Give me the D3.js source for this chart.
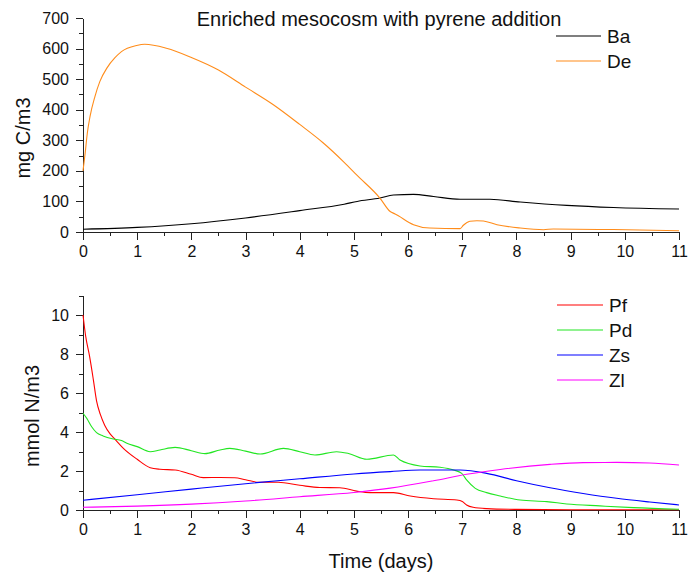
<!DOCTYPE html>
<html>
<head>
<meta charset="utf-8">
<script src="https://cdn.jsdelivr.net/npm/d3@7"></script>
<style>
  html, body { margin: 0; padding: 0; background: #fff; }
  svg { display: block; font-family: "Liberation Sans", Arial, Helvetica, sans-serif; }
  .axis path, .axis line { stroke: #222; stroke-width: 1; shape-rendering: crispEdges; }
  .axis text { fill: #111; font-size: 16px; }
</style>
</head>
<body>
<svg id="chart" width="688" height="577"></svg>
<script>
// ---------------- data ----------------
const titleText = "Enriched mesocosm with pyrene addition";
const xTicks = [0,1,2,3,4,5,6,7,8,9,10,11];
const topYTicks = [0,100,200,300,400,500,600,700];
const bottomYTicks = [0,2,4,6,8,10];

const baTime = [0,1,2,3,4,4.82,5.06,5.48,5.73,6.1,6.47,6.96,7.51,8.07,8.93,9.79,11];
const baVals = [9,15,27,46,70,91,100,111,121,123,116,107,107,98,87,80,75];

const deTime = [0,0.04,0.08,0.13,0.22,0.31,0.44,0.59,0.71,0.99,1.14,1.54,2.0,2.5,3.0,3.5,4.0,4.43,4.82,5.06,5.48,5.67,5.76,5.82,6.1,6.4,6.96,7.02,7.14,7.27,7.39,7.64,8.07,8.5,8.68,9.79,11];
const deVals = [200,258,324,378,443,492,536,570,590,610,614,601,571,530,474,418,352,292,228,185,111,67,59,53,24,13,11,22,35,37,36,24,13,7.5,10,8,4];

const pfTime = [0,0.05,0.12,0.19,0.25,0.32,0.4,0.5,0.6,0.75,1.0,1.24,1.42,1.7,2.0,2.22,2.53,2.8,3.0,3.25,3.6,4.0,4.37,4.74,5.05,5.3,5.73,6.04,6.47,6.9,7.0,7.08,7.2,7.45,8.0,9.0,11];
const pfVals = [10,8.9,7.9,6.7,5.6,4.9,4.35,3.9,3.6,3.15,2.6,2.17,2.09,2.05,1.83,1.66,1.67,1.65,1.55,1.42,1.42,1.27,1.15,1.14,0.97,0.89,0.89,0.72,0.58,0.51,0.44,0.26,0.14,0.07,0.03,0.01,0.01];

const pdTime = [0,0.07,0.16,0.25,0.37,0.56,0.71,0.81,1.0,1.24,1.42,1.7,2.0,2.25,2.53,2.71,3.0,3.27,3.7,4.0,4.28,4.68,4.9,5.24,5.73,5.85,6.22,6.59,6.84,6.99,7.08,7.24,7.45,7.7,8.07,8.56,8.93,9.54,10.16,11];
const pdVals = [4.96,4.7,4.27,3.97,3.8,3.64,3.56,3.42,3.25,2.99,3.08,3.21,3.04,2.89,3.08,3.16,3.02,2.87,3.16,2.99,2.82,2.99,2.9,2.6,2.82,2.56,2.26,2.19,2.05,1.88,1.54,1.11,0.89,0.72,0.51,0.43,0.31,0.21,0.12,0.04];

const zsTime = [0,1,2,3,4,5,5.67,6.22,6.96,7.45,8.0,8.62,9.23,9.85,10.46,11];
const zsVals = [0.5,0.78,1.07,1.35,1.6,1.85,1.97,2.05,2.05,1.88,1.5,1.14,0.85,0.6,0.41,0.26];

const zlTime = [0,1,2,3,4,5,5.67,6.47,7.08,7.7,8.62,9.23,9.85,10.46,11];
const zlVals = [0.14,0.2,0.3,0.46,0.68,0.9,1.12,1.5,1.83,2.08,2.34,2.43,2.44,2.41,2.31];

const topSeries = [
  {name: "Ba", time: baTime, vals: baVals, color: "#000000"},
  {name: "De", time: deTime, vals: deVals, color: "#ff8c1a"}
];
const bottomSeries = [
  {name: "Pf", time: pfTime, vals: pfVals, color: "#ff0000"},
  {name: "Pd", time: pdTime, vals: pdVals, color: "#22e622"},
  {name: "Zs", time: zsTime, vals: zsVals, color: "#0000ff"},
  {name: "Zl", time: zlTime, vals: zlVals, color: "#ff00ff"}
];

// ---------------- layout ----------------
const svg = d3.select("#chart");
const x = d3.scaleLinear().domain([0, 11]).range([83, 679]);
const yTop = d3.scaleLinear().domain([0, 700]).range([232, 18]);
const yBot = d3.scaleLinear().domain([0, 11]).range([510, 295.5]);

function drawPanel(y, yTicks, yMinor, xMinor, series) {
  // minor ticks
  svg.append("g").attr("class", "axis")
    .attr("transform", `translate(0,${y.range()[0]})`)
    .call(d3.axisBottom(x).tickValues(xMinor).tickSize(4).tickSizeOuter(0).tickFormat(""))
    .select(".domain").remove();
  svg.append("g").attr("class", "axis")
    .attr("transform", `translate(${x.range()[0]},0)`)
    .call(d3.axisLeft(y).tickValues(yMinor).tickSize(4).tickSizeOuter(0).tickFormat(""))
    .select(".domain").remove();
  // major axes
  svg.append("g").attr("class", "axis")
    .attr("transform", `translate(0,${y.range()[0]})`)
    .call(d3.axisBottom(x).tickValues(xTicks).tickSize(8).tickSizeOuter(0).tickPadding(6).tickFormat(d3.format("d")));
  svg.append("g").attr("class", "axis")
    .attr("transform", `translate(${x.range()[0]},0)`)
    .call(d3.axisLeft(y).tickValues(yTicks).tickSize(7).tickSizeOuter(0).tickPadding(7).tickFormat(d3.format("d")));

  const line = d3.line()
    .x((d) => x(d[0]))
    .y((d) => y(d[1]))
    .curve(d3.curveMonotoneX);
  series.forEach((s) => {
    svg.append("path")
      .datum(s.time.map((t, i) => [t, s.vals[i]]))
      .attr("fill", "none")
      .attr("stroke", s.color)
      .attr("stroke-width", 1.1)
      .attr("d", line);
  });
}

const xMinor = d3.range(0.5, 11, 1);
drawPanel(yTop, topYTicks, d3.range(50, 700, 100), xMinor, topSeries);
drawPanel(yBot, bottomYTicks, d3.range(1, 12, 2), xMinor, bottomSeries);

// title
svg.append("text")
  .attr("x", 379).attr("y", 25.5)
  .attr("text-anchor", "middle")
  .style("font-size", "20px").attr("fill", "#111")
  .text(titleText);

// axis labels
svg.append("text")
  .attr("transform", "translate(30,138) rotate(-90)")
  .attr("text-anchor", "middle")
  .style("font-size", "20px").attr("fill", "#111")
  .text("mg C/m3");
svg.append("text")
  .attr("transform", "translate(39,416) rotate(-90)")
  .attr("text-anchor", "middle")
  .style("font-size", "20px").attr("fill", "#111")
  .text("mmol N/m3");
svg.append("text")
  .attr("x", 381).attr("y", 568)
  .attr("text-anchor", "middle")
  .style("font-size", "20px").attr("fill", "#111")
  .text("Time (days)");

// legends
function legend(series, x0, x1, y0, step) {
  series.forEach((s, i) => {
    const yy = y0 + i * step;
    svg.append("line")
      .attr("x1", x0).attr("x2", x1).attr("y1", yy).attr("y2", yy)
      .attr("stroke", s.color).attr("stroke-width", 1.2);
    svg.append("text")
      .attr("x", x1 + 6).attr("y", yy + 7)
      .style("font-size", "19px").attr("fill", "#111")
      .text(s.name);
  });
}
legend(topSeries, 556, 601, 36, 25);
legend(bottomSeries, 557, 603, 305, 25);
</script>
</body>
</html>
